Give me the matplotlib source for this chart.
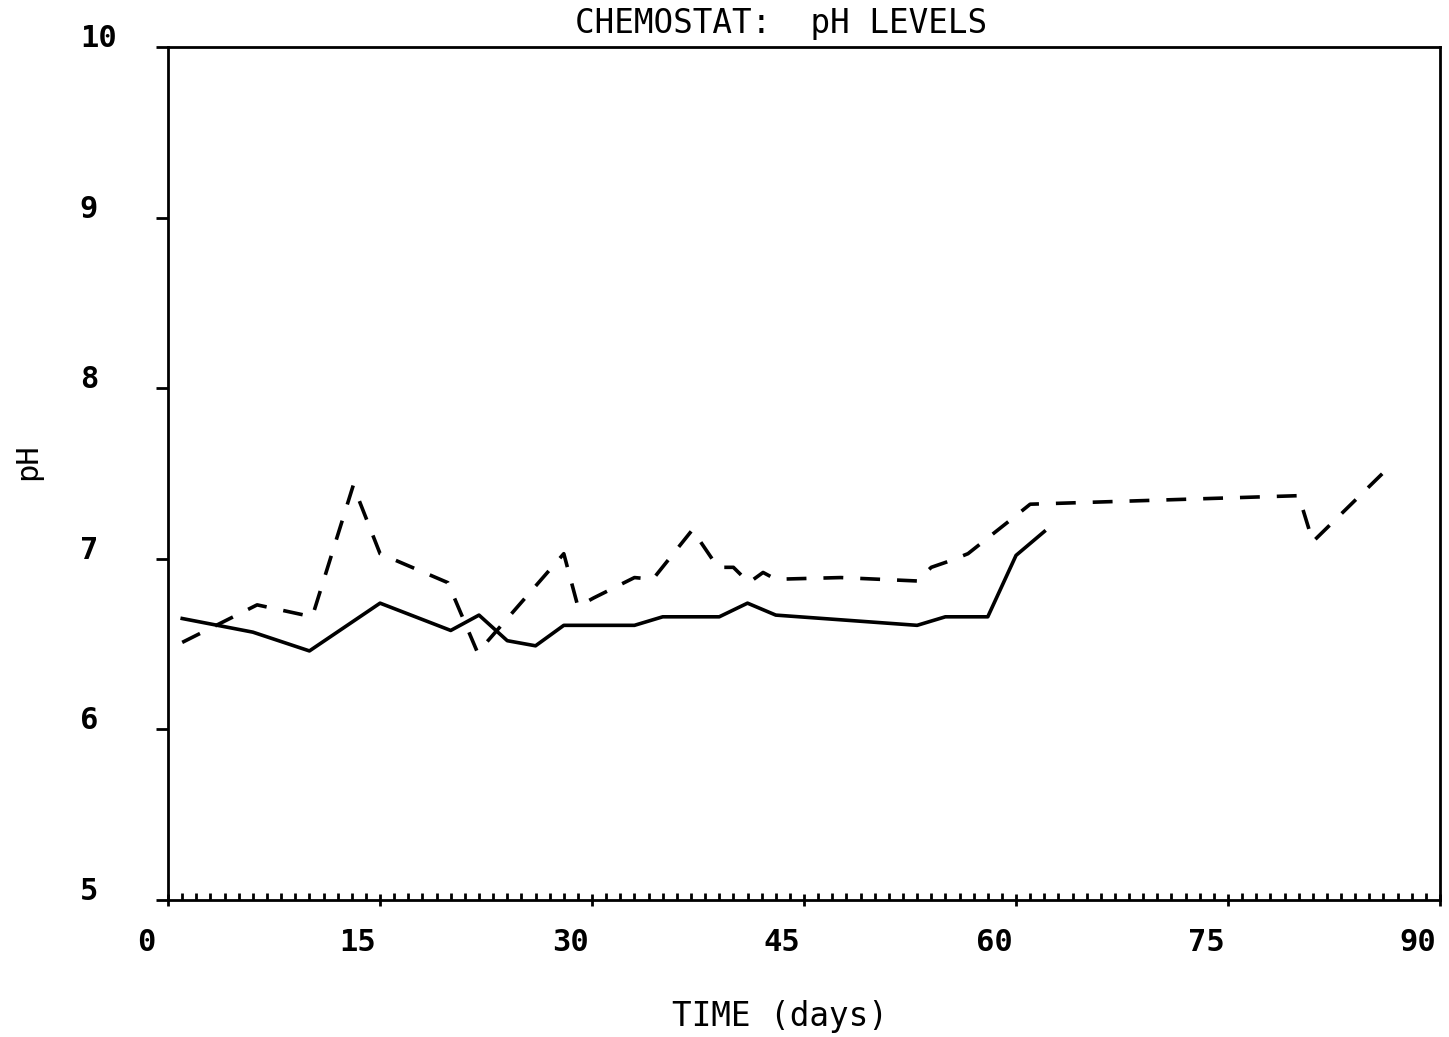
import numpy as np
import matplotlib.pyplot as plt
from matplotlib.ticker import MultipleLocator
from matplotlib.transforms import ScaledTranslation

# solid curve
days_a = [1, 6, 10, 15, 20, 22, 24, 26, 28, 33, 35, 39, 41, 43, 53, 55, 58, 60, 62]
ph_a = [6.65, 6.57, 6.46, 6.74, 6.58, 6.67, 6.52, 6.49, 6.61, 6.61, 6.66, 6.66,
        6.74, 6.67, 6.61, 6.66, 6.66, 7.02, 7.16]

# dashed curve
days_b = [1, 6.3, 10.2, 13.1, 15, 19.8, 21.9, 28, 29, 30.1, 33, 34.3, 37.1, 38.9,
          40, 41.1, 42.1, 43, 47.6, 53, 54, 55.4, 56.6, 60.1, 61, 80, 81, 86.3]
ph_b = [6.51, 6.73, 6.66, 7.43, 7.03, 6.86, 6.45, 7.03, 6.72, 6.77, 6.89, 6.88,
        7.17, 6.95, 6.95, 6.86, 6.92, 6.88, 6.89, 6.87, 6.95, 6.99, 7.03, 7.26,
        7.32, 7.37, 7.10, 7.53]

xticks = [0, 15, 30, 45, 60, 75, 90]
yticks = [5, 6, 7, 8, 9, 10]

plt.rcParams['font.family'] = ['DejaVu Sans Mono']
fs = 22

fig = plt.figure(figsize=(14.49, 10.37), dpi=100)
ax = fig.add_axes([0.116, 0.1321, 0.8778, 0.8226])

ax.plot(days_a, ph_a, color='black', lw=2.6)
ax.plot(days_b, ph_b, color='black', lw=2.6, dashes=(5.5, 4.7))

ax.set_xlim(0, 90)
ax.set_ylim(5, 10)
ax.set_xticks(xticks)
ax.set_yticks(yticks)
ax.xaxis.set_minor_locator(MultipleLocator(1))

for s in ax.spines.values():
    s.set_linewidth(2)

ax.tick_params(axis='x', which='major', direction='inout', length=9, width=2,
               labelsize=fs, pad=16)
ax.tick_params(axis='x', which='minor', direction='in', length=5, width=2)
ax.tick_params(axis='y', which='major', direction='out', length=8.6, width=2,
               labelsize=fs, pad=55)

# labels sit left of the ticks, like the plotter output
shift_x = ScaledTranslation(-22 / 100, 0, fig.dpi_scale_trans)
for lab in ax.get_xticklabels():
    lab.set_fontweight('bold')
    lab.set_transform(lab.get_transform() + shift_x)
for lab in ax.get_yticklabels():
    lab.set_fontweight('bold')
    lab.set_horizontalalignment('left')
    lab.set_verticalalignment('baseline')

fig.text(0.539, 0.977, 'CHEMOSTAT:  pH LEVELS', ha='center', va='center', fontsize=23.5)
fig.text(0.538, 0.020, 'TIME (days)', ha='center', va='center', fontsize=23.5)
fig.text(0.019, 0.5545, 'pH', ha='center', va='center', rotation=90, fontsize=fs)

fig.savefig('out.png', dpi=100)
